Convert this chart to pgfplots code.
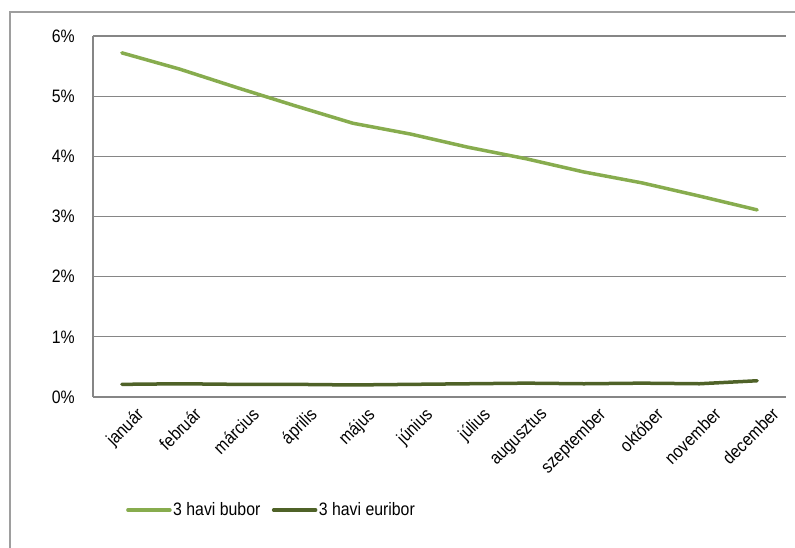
\documentclass[border=0pt]{standalone}
\usepackage{pgfplots}
\pgfplotsset{compat=1.18}
\usepackage{fontspec}
\setmainfont[FakeStretch=0.88]{Liberation Sans}
\definecolor{bubor}{RGB}{135,172,78}
\definecolor{euribor}{RGB}{79,98,40}
\definecolor{gridgray}{RGB}{134,134,134}
\begin{document}
\fontsize{18}{21}\selectfont
\begin{tikzpicture}[x=1pt,y=1pt]
\useasboundingbox (-93,-151) rectangle (702,397);
\draw[gridgray!80, line width=1.2pt] (-83,-160) -- (-83,385) -- (710,385);
\begin{axis}[
  scale only axis,
  width=693pt, height=361pt,
  at={(0,0)}, anchor=south west,
  xmin=-0.5, xmax=11.5,
  ymin=0, ymax=6,
  ytick={0,1,2,3,4,5,6},
  yticklabel={\pgfmathprintnumber{\tick}\%},
  xtick={0,...,11},
  xticklabels={január,február,március,április,május,június,július,augusztus,szeptember,október,november,december},
  major tick length=0pt,
  axis x line*=bottom,
  axis y line*=left,
  axis line style={gridgray, line width=1.3pt, -},
  ymajorgrids,
  grid style={gridgray, line width=1.2pt},
  tick label style={font=\fontsize{18}{21}\selectfont},
  /pgf/number format/assume math mode=true,
  yticklabel style={anchor=east, inner sep=0pt, xshift=-18pt},
  xticklabel style={rotate=45, anchor=north east, inner sep=0pt, xshift=3pt, yshift=-16pt},
  legend style={draw=none, fill=none, at={(30pt,-113pt)}, anchor=west,
    font=\fontsize{18}{21}\selectfont, legend columns=2,
    nodes={inner sep=1.5pt},
    /tikz/every even column/.append style={column sep=10pt}},
  legend image code/.code={\draw[#1, line width=3.5pt] (0pt,0pt) -- (42pt,0pt);},
  legend cell align=left,
]
\addplot[bubor, line width=3.5pt, line join=round, line cap=round] coordinates {
 (0,5.72) (1,5.45) (2,5.14) (3,4.84) (4,4.55) (5,4.37) (6,4.15) (7,3.96) (8,3.74) (9,3.56) (10,3.34) (11,3.11)};
\addlegendentry{3 havi bubor}
\addplot[euribor, line width=3.5pt, line join=round, line cap=round] coordinates {
 (0,0.21) (1,0.22) (2,0.21) (3,0.21) (4,0.20) (5,0.21) (6,0.22) (7,0.23) (8,0.22) (9,0.23) (10,0.22) (11,0.27)};
\addlegendentry{3 havi euribor}
\end{axis}
\end{tikzpicture}
\end{document}
